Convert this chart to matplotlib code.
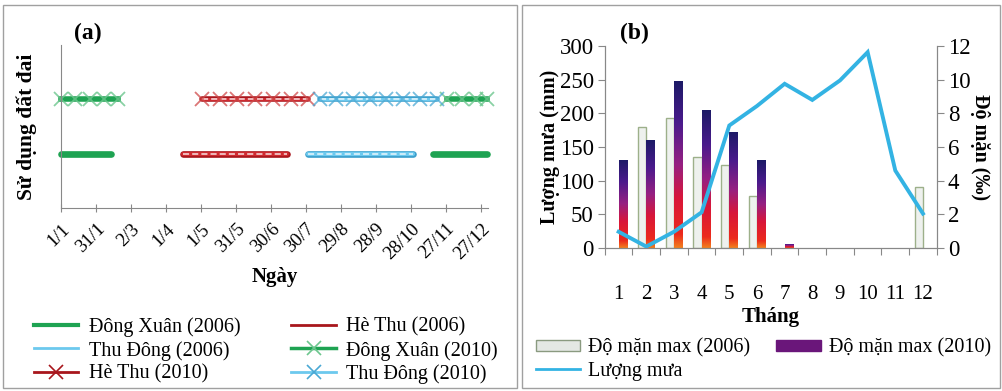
import numpy as np
import matplotlib
matplotlib.use("Agg")
import matplotlib.pyplot as plt
from matplotlib.patches import Rectangle, Patch
from matplotlib.lines import Line2D
from matplotlib.colors import LinearSegmentedColormap

plt.rcParams['font.family'] = ['Liberation Serif', 'DejaVu Serif']

# ---- du lieu (a): mua vu theo ngay trong nam ----
tick_days = [1, 31, 61, 91, 121, 151, 181, 211, 241, 271, 301, 331, 361]
tick_labels = ['1/1', '31/1', '2/3', '1/4', '1/5', '31/5', '30/6', '30/7',
               '29/8', '28/9', '28/10', '27/11', '27/12']
level_2006 = 1
level_2010 = 2
dong_xuan_2006 = [[1, 44], [320, 366]]
he_thu_2006 = [[106, 195]]
thu_dong_2006 = [[213, 303]]
dong_xuan_2010 = [[1, 13, 26, 38, 50], [332, 345, 357, 366]]
he_thu_2010 = [[122, 137, 152, 167, 183, 198, 213]]
thu_dong_2010 = [[223, 237, 251, 266, 280, 294, 309, 323]]

# ---- du lieu (b): luong mua va do man theo thang ----
months = np.arange(1, 13)
month_labels = [str(m) for m in months]
do_man_2006 = [0, 7.2, 7.7, 5.4, 4.95, 3.1, 0, 0, 0, 0, 0, 3.6]
do_man_2010 = [5.25, 6.4, 9.9, 8.2, 6.9, 5.2, 0.25, 0, 0, 0, 0, 0]
luong_mua = [24, 2, 24, 53, 182, 211, 244, 220, 249, 291, 115, 51]

green = '#1ea352'
green_x = '#6cc68e'
red_dark = '#a8161c'
red = '#cf2a30'
blue_dark = '#3b9fcc'
blue = '#6cc9ee'
rain_col = '#33b3e3'

fig = plt.figure(figsize=(10.03, 3.91), dpi=100)

# khung hai o
for x0, w in [(0.003, 0.512), (0.520, 0.477)]:
    fig.add_artist(Rectangle((x0, 0.008), w, 0.979, transform=fig.transFigure,
                             fill=False, edgecolor='#a0a0a0', lw=1.0))

# ================= (a) =================
ax1 = fig.add_axes([0.0608, 0.468, 0.4257, 0.417])

def plain(ax, segs, y, col, lw=4.8):
    for s in segs:
        ax.plot(s, [y] * len(s), color=col, lw=lw, solid_capstyle='round', clip_on=False)

def dashed(ax, segs, y, dark, light, lw=4.8, marker=None, mcol=None):
    for s in segs:
        ax.plot(s, [y] * len(s), color=dark, lw=lw, solid_capstyle='round', clip_on=False)
        ax.plot(s, [y] * len(s), color=light, lw=lw - 1.8, solid_capstyle='round', clip_on=False)
        ax.plot(s, [y] * len(s), color='white', lw=1.1, ls=(0, (4, 2)), alpha=0.85, clip_on=False)
        if marker:
            ax.plot(s, [y] * len(s), ls='none', marker=marker, ms=10, mew=1.3,
                    color=mcol, alpha=0.75, clip_on=False)

plain(ax1, dong_xuan_2006, level_2006, green)
dashed(ax1, he_thu_2006, level_2006, red_dark, red)
dashed(ax1, thu_dong_2006, level_2006, blue_dark, blue)

for s in dong_xuan_2010:
    ax1.plot(s, [level_2010] * len(s), color=green, lw=4, clip_on=False)
    ax1.plot(s, [level_2010] * len(s), ls='none', marker='x', ms=10, mew=1.3,
             color=green_x, alpha=0.8, clip_on=False)
dashed(ax1, he_thu_2010, level_2010, red_dark, red, lw=4, marker='x', mcol='#d04848')
dashed(ax1, thu_dong_2010, level_2010, blue_dark, blue, lw=4, marker='x', mcol='#4aa8d4')

ax1.set_xlim(1, 367)
ax1.set_ylim(0, 3)
ax1.set_xticks(tick_days)
ax1.set_xticklabels(tick_labels, rotation=45, ha='right', rotation_mode='anchor', fontsize=13.5)
ax1.set_yticks([])
ax1.tick_params(axis='x', direction='inout', length=6, color='#888888', pad=6)
for side in ['top', 'right']:
    ax1.spines[side].set_visible(False)
for side in ['left', 'bottom']:
    ax1.spines[side].set_color('#888888')
ax1.set_xlabel('Ngày', fontsize=15, fontweight='bold', labelpad=3)
ax1.set_ylabel('Sử dụng đất đai', fontsize=15.5, fontweight='bold', labelpad=17)
fig.text(0.074, 0.9, '(a)', fontsize=17, fontweight='bold')

h_a = [
    Line2D([], [], color=green, lw=3),
    Line2D([], [], color=blue, lw=2),
    Line2D([], [], color=red_dark, lw=2, marker='x', ms=10, mew=1.2),
    Line2D([], [], color=red_dark, lw=2),
    Line2D([], [], color=green, lw=2.5, marker='x', ms=10, mew=1.2, mec=green_x),
    Line2D([], [], color=blue, lw=2, marker='x', ms=10, mew=1.2, mec='#4aa8d4'),
]
l_a = ['Đông Xuân (2006)', 'Thu Đông (2006)', 'Hè Thu (2010)',
       'Hè Thu (2006)', 'Đông Xuân (2010)', 'Thu Đông (2010)']
fig.legend(h_a, l_a, ncol=2, loc='upper left', bbox_to_anchor=(0.024, 0.215),
           frameon=False, fontsize=14.5, handlelength=2.2, handletextpad=0.5,
           columnspacing=2.55, labelspacing=0.2, borderpad=0)

# ================= (b) =================
ax2 = fig.add_axes([0.603, 0.366, 0.331, 0.516])
ax3 = ax2.twinx()
ax2.set_zorder(ax3.get_zorder() + 1)
ax2.patch.set_visible(False)

w = 0.3
b06 = ax3.bar(months - w / 2, do_man_2006, width=w, facecolor='#eef1ee',
              edgecolor='#9db08a', lw=1.0)
b10 = ax3.bar(months + w / 2, do_man_2010, width=w, facecolor='none', edgecolor='none')
for bar in b06:
    if bar.get_height() <= 0:
        bar.set_visible(False)

grad = LinearSegmentedColormap.from_list(
    'g10', [(0, '#f2801e'), (0.08, '#ec2a1c'), (0.3, '#d8163a'),
            (0.5, '#962082'), (0.75, '#4a1a8c'), (1, '#1c1a66')])
for bar in b10:
    h = bar.get_height()
    if h <= 0:
        continue
    x0 = bar.get_x()
    img = ax3.imshow(np.linspace(0, 1, 256).reshape(-1, 1), cmap=grad, origin='lower',
                     extent=[x0, x0 + bar.get_width(), 0, h], aspect='auto', zorder=2)
    img.set_clip_path(bar)

ax2.plot(months, luong_mua, color=rain_col, lw=2.8, solid_joinstyle='miter')

ax2.set_xlim(0.5, 12.5)
ax2.set_ylim(0, 300)
ax3.set_ylim(0, 12)
ax3.set_xlim(0.5, 12.5)
ax2.set_yticks(np.arange(0, 301, 50))
ax3.set_yticks(np.arange(0, 13, 2))
ax2.set_xticks(np.arange(0.5, 13, 1))
ax2.set_xticklabels([])
ax2.set_xticks(months, minor=True)
ax2.set_xticklabels(month_labels, minor=True, fontsize=15)
ax2.tick_params(axis='x', which='major', length=5, color='#888888')
ax2.tick_params(axis='x', which='minor', length=0, pad=27)
ax2.tick_params(axis='y', length=5, color='#888888', labelsize=16.5, pad=3)
ax3.tick_params(axis='y', length=5, color='#888888', labelsize=16.5, pad=3)
for ax in (ax2, ax3):
    ax.spines['top'].set_visible(False)
    for side in ['left', 'right', 'bottom']:
        ax.spines[side].set_color('#888888')

ax2.set_xlabel('Tháng', fontsize=15, fontweight='bold', labelpad=2)
ax2.set_ylabel('Lượng mưa (mm)', fontsize=14.5, fontweight='bold', labelpad=0)
ax3.set_ylabel('Độ mặn (‰)', fontsize=14.5, fontweight='bold', rotation=-90, labelpad=14)
fig.text(0.618, 0.9, '(b)', fontsize=17, fontweight='bold')

h_b = [Patch(facecolor='#e4e8e4', edgecolor='#8a9a80'),
       Line2D([], [], color=rain_col, lw=2),
       Patch(facecolor='#6a167a', edgecolor='#6a167a')]
l_b = ['Độ mặn max (2006)', 'Lượng mưa', 'Độ mặn max (2010)']
fig.legend(h_b, l_b, ncol=2, loc='upper left', bbox_to_anchor=(0.524, 0.16),
           frameon=False, fontsize=14.5, handlelength=2.2, handleheight=0.5,
           handletextpad=0.4, columnspacing=1.3, labelspacing=0.2, borderpad=0)

fig.savefig('out.png', dpi=100)
